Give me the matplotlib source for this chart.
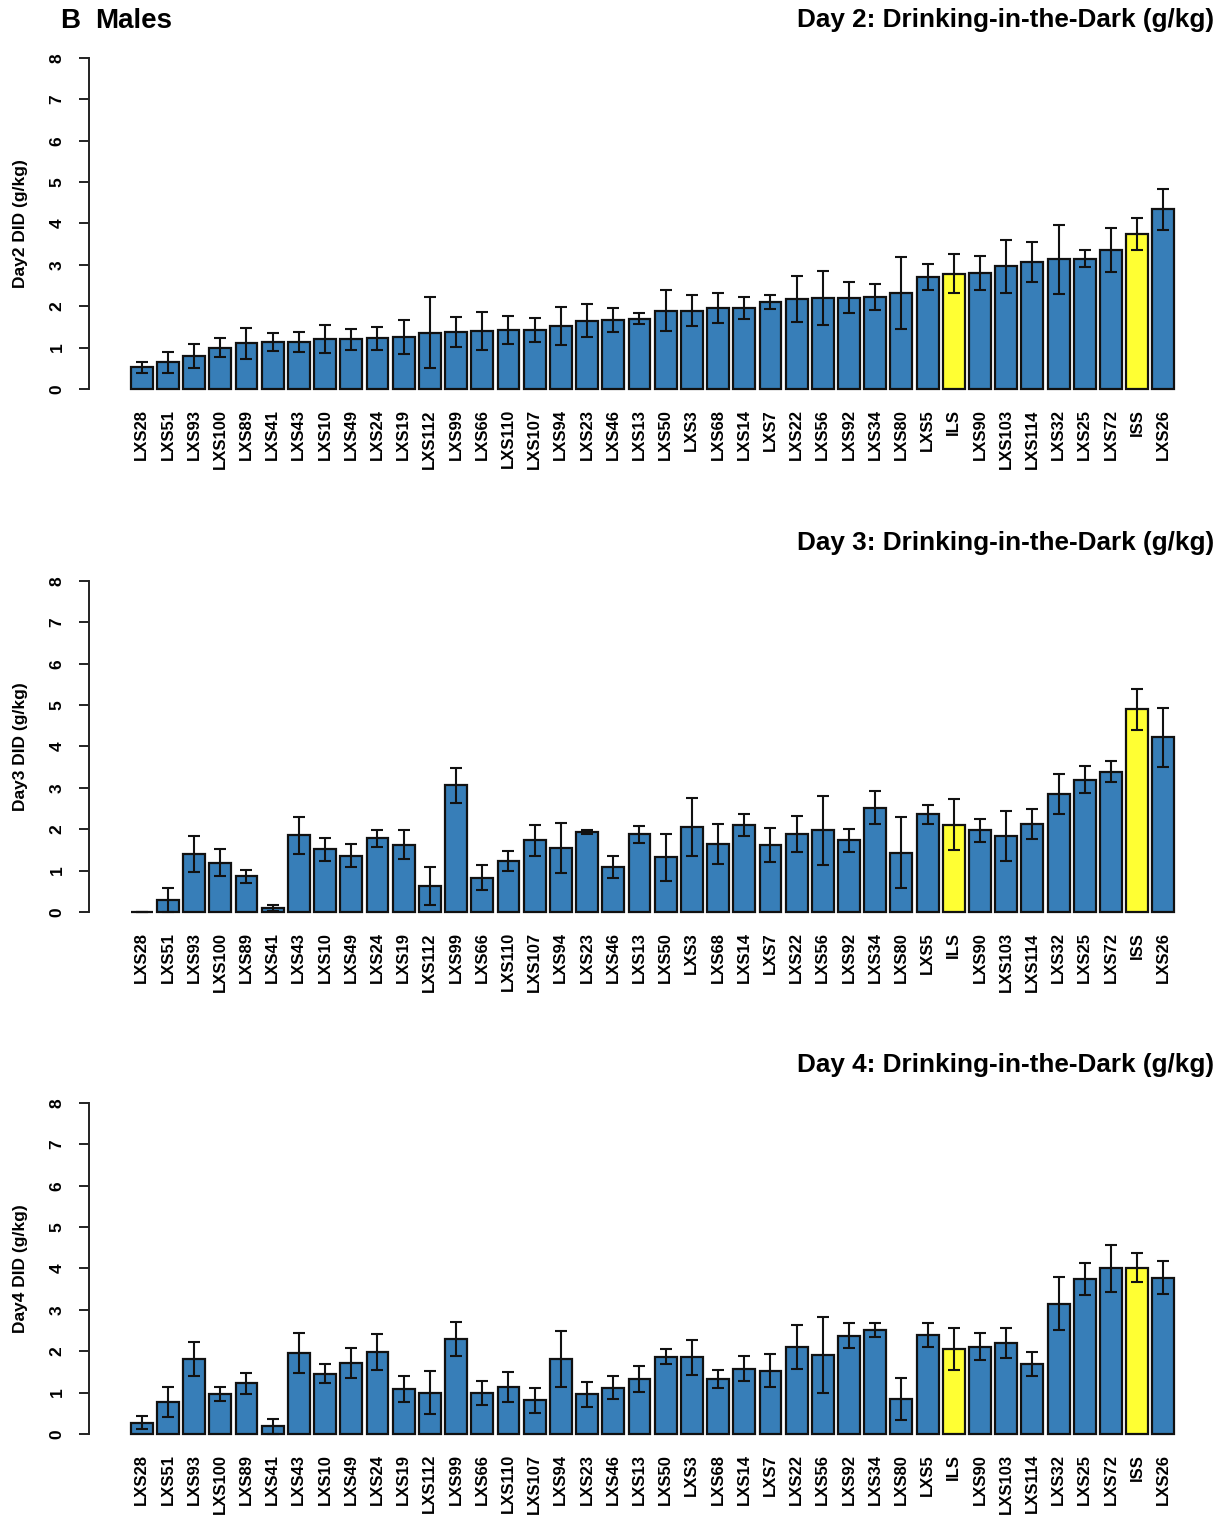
import numpy as np
import matplotlib.pyplot as plt

plt.rcParams['font.family'] = ['Liberation Sans', 'DejaVu Sans']
plt.rcParams['font.weight'] = 'bold'

strains = ['LXS28', 'LXS51', 'LXS93', 'LXS100', 'LXS89', 'LXS41', 'LXS43', 'LXS10',
           'LXS49', 'LXS24', 'LXS19', 'LXS112', 'LXS99', 'LXS66', 'LXS110', 'LXS107',
           'LXS94', 'LXS23', 'LXS46', 'LXS13', 'LXS50', 'LXS3', 'LXS68', 'LXS14',
           'LXS7', 'LXS22', 'LXS56', 'LXS92', 'LXS34', 'LXS80', 'LXS5', 'ILS',
           'LXS90', 'LXS103', 'LXS114', 'LXS32', 'LXS25', 'LXS72', 'ISS', 'LXS26']
parents = ['ILS', 'ISS']

day2_mean = [0.52, 0.64, 0.79, 1.00, 1.10, 1.13, 1.14, 1.20, 1.20, 1.22,
             1.26, 1.36, 1.38, 1.40, 1.43, 1.43, 1.53, 1.65, 1.67, 1.70,
             1.89, 1.89, 1.96, 1.96, 2.10, 2.17, 2.19, 2.21, 2.22, 2.32,
             2.71, 2.79, 2.80, 2.96, 3.07, 3.13, 3.15, 3.35, 3.74, 4.34]
day2_sem = [0.13, 0.26, 0.29, 0.22, 0.38, 0.22, 0.24, 0.34, 0.26, 0.27,
            0.41, 0.86, 0.36, 0.47, 0.34, 0.29, 0.46, 0.40, 0.29, 0.14,
            0.50, 0.37, 0.36, 0.26, 0.17, 0.56, 0.65, 0.38, 0.32, 0.86,
            0.32, 0.46, 0.42, 0.63, 0.48, 0.84, 0.21, 0.53, 0.39, 0.49]

day3_mean = [0.00, 0.30, 1.40, 1.19, 0.86, 0.10, 1.85, 1.52, 1.36, 1.78,
             1.63, 0.63, 3.06, 0.83, 1.24, 1.73, 1.55, 1.93, 1.09, 1.88,
             1.32, 2.05, 1.65, 2.10, 1.61, 1.89, 1.97, 1.73, 2.52, 1.43,
             2.36, 2.11, 1.97, 1.84, 2.13, 2.86, 3.20, 3.39, 4.90, 4.22]
day3_sem = [0.00, 0.29, 0.43, 0.33, 0.15, 0.07, 0.44, 0.28, 0.28, 0.20,
            0.34, 0.46, 0.43, 0.31, 0.24, 0.37, 0.60, 0.04, 0.26, 0.21,
            0.57, 0.70, 0.48, 0.27, 0.41, 0.44, 0.83, 0.27, 0.40, 0.86,
            0.23, 0.62, 0.27, 0.61, 0.37, 0.48, 0.33, 0.26, 0.49, 0.71]

day4_mean = [0.27, 0.77, 1.81, 0.96, 1.22, 0.18, 1.96, 1.46, 1.72, 1.98,
             1.09, 1.00, 2.29, 0.99, 1.13, 0.81, 1.81, 0.96, 1.12, 1.33,
             1.87, 1.85, 1.33, 1.58, 1.53, 2.11, 1.91, 2.37, 2.52, 0.84,
             2.40, 2.06, 2.11, 2.20, 1.69, 3.15, 3.75, 4.00, 4.02, 3.78]
day4_sem = [0.16, 0.37, 0.40, 0.17, 0.25, 0.17, 0.49, 0.23, 0.36, 0.43,
            0.31, 0.52, 0.41, 0.29, 0.37, 0.30, 0.67, 0.30, 0.27, 0.31,
            0.18, 0.42, 0.22, 0.30, 0.39, 0.53, 0.91, 0.30, 0.17, 0.51,
            0.29, 0.51, 0.32, 0.36, 0.28, 0.64, 0.38, 0.56, 0.35, 0.39]

panels = [
    (day2_mean, day2_sem, 'Day2 DID (g/kg)', 'Day 2: Drinking-in-the-Dark (g/kg)', 0.7347),
    (day3_mean, day3_sem, 'Day3 DID (g/kg)', 'Day 3: Drinking-in-the-Dark (g/kg)', 0.3897),
    (day4_mean, day4_sem, 'Day4 DID (g/kg)', 'Day 4: Drinking-in-the-Dark (g/kg)', 0.0454),
]

blue = '#377EB8'
yellow = '#FFFF33'
colors = [yellow if s in parents else blue for s in strains]

# R barplot style positions: width 1, space 0.2
x = 0.7 + 1.2 * np.arange(len(strains))

fig = plt.figure(figsize=(12.23, 15.16), dpi=100)

for mean, sem, ylab, title, bottom in panels:
    ax = fig.add_axes([0.0728, bottom, 0.9215, 0.2358])
    ax.bar(x, mean, width=1.0, color=colors, edgecolor='#111111', linewidth=1.6, zorder=2)
    ax.errorbar(x, mean, yerr=sem, fmt='none', ecolor='#111111', elinewidth=1.5,
                capsize=4.5, capthick=1.5, zorder=3)
    ax.set_xlim(-1.712, 49.912)
    ax.set_ylim(-0.32, 8.32)
    for side in ['top', 'right', 'bottom']:
        ax.spines[side].set_visible(False)
    ax.spines['left'].set_bounds(0, 8)
    ax.spines['left'].set_linewidth(1.4)
    ax.spines['left'].set_color('#222222')
    ax.set_yticks(range(9))
    ax.set_yticklabels([str(v) for v in range(9)], rotation=90, va='center',
                       fontsize=12.5, fontweight='bold')
    ax.tick_params(axis='y', length=7.5, width=1.4, pad=10, color='#222222')
    ax.set_xticks(x)
    ax.set_xticklabels(strains, rotation=90, fontsize=12, fontweight='bold')
    ax.tick_params(axis='x', length=0, pad=5)
    ax.set_ylabel(ylab, fontsize=12.5, fontweight='bold', labelpad=16)
    ax.set_title(title, loc='right', fontsize=18.8, fontweight='bold', pad=13, x=0.998)

fig.text(0.049, 0.986, 'B', fontsize=20, fontweight='bold', va='center', ha='left')
fig.text(0.078, 0.986, 'Males', fontsize=20, fontweight='bold', va='center', ha='left')

fig.savefig('out.png', dpi=100)
